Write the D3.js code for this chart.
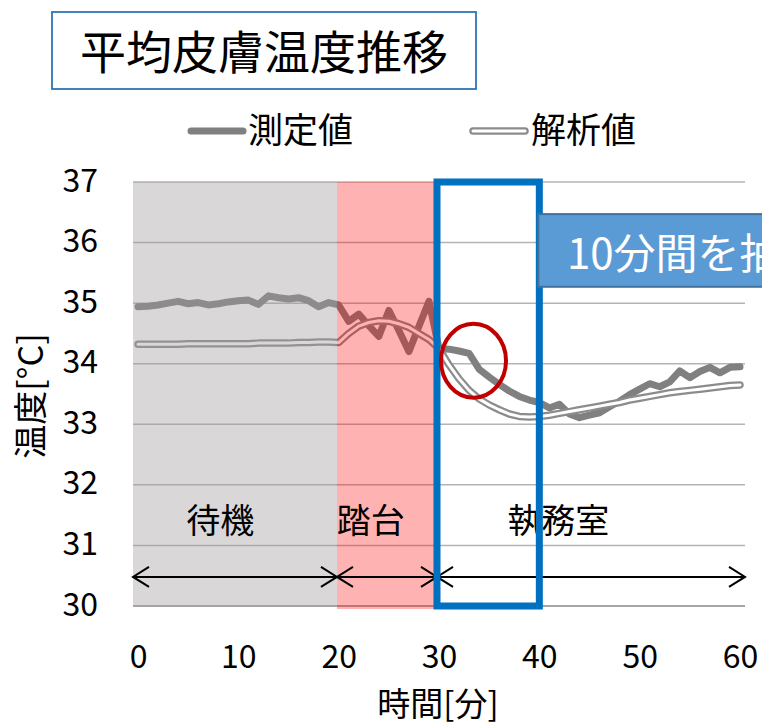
<!DOCTYPE html>
<html>
<head>
<meta charset="utf-8">
<script src="https://cdn.jsdelivr.net/npm/d3@7"></script>
<style>
  html, body { margin: 0; padding: 0; background: #fff; }
  svg { display: block; font-family: "Noto Sans CJK JP", "Noto Sans", sans-serif; }
</style>
</head>
<body>
<svg id="chart" width="762" height="727"></svg>
<script>
// ---- data ----
const titleText = "平均皮膚温度推移";
const seriesNames = ["測定値", "解析値"];
const minutes = [0,1,2,3,4,5,6,7,8,9,10,11,12,13,14,15,16,17,18,19,20,
  21,22,23,24,25,26,27,28,29,30,31,32,33,34,35,36,37,38,39,40,
  41,42,43,44,45,46,47,48,49,50,51,52,53,54,55,56,57,58,59,60];
const measured = [
  34.94,34.95,34.97,35.00,35.03,34.99,35.01,34.97,34.99,35.02,
  35.04,35.05,34.98,35.12,35.09,35.07,35.09,35.04,34.94,35.01,
  34.97,34.70,34.82,34.63,34.45,34.88,34.55,34.20,34.62,35.03,
  34.25,34.24,34.21,34.17,33.91,33.78,33.66,33.55,33.46,33.40,
  33.36,33.27,33.33,33.17,33.11,33.15,33.19,33.29,33.38,33.49,
  33.58,33.67,33.62,33.70,33.88,33.77,33.87,33.94,33.85,33.94,33.95
];
const analyzed = [
  34.32,34.32,34.32,34.32,34.32,34.33,34.33,34.33,34.33,34.33,
  34.33,34.33,34.34,34.34,34.34,34.34,34.35,34.35,34.36,34.36,
  34.35,34.50,34.62,34.68,34.71,34.70,34.66,34.60,34.50,34.40,
  34.25,33.98,33.75,33.56,33.42,33.32,33.24,33.17,33.13,33.12,
  33.13,33.15,33.18,33.21,33.24,33.27,33.30,33.33,33.36,33.40,
  33.43,33.46,33.49,33.52,33.54,33.56,33.58,33.60,33.62,33.64,33.65
];
const yTicks = [30,31,32,33,34,35,36,37];
const xTicks = [0,10,20,30,40,50,60];
const xTitle = "時間[分]";
const yTitle = "温度[°C]";
// phases: label, start, end (minutes), label anchor (minutes)
const phaseLabels = ["待機", "踏台", "執務室"];
const phaseStart = [-0.5, 19.83, 29.8];
const phaseEnd = [19.83, 29.8, 60.5];
const phaseLabelAt = [8.2, 23.2, 41.9];
const highlightRange = [29.8, 40.0];   // 10-minute extraction window
const calloutText = "10分間を抽出";

// ---- layout ----
const svg = d3.select("#chart");
const x = d3.scaleLinear().domain([-0.5, 60.5]).range([133, 745]);
const y = d3.scaleLinear().domain([30, 37]).range([606, 182]);

// title box
svg.append("rect").attr("x", 52).attr("y", 12).attr("width", 424).attr("height", 77)
  .attr("fill", "#fff").attr("stroke", "#2E75B6").attr("stroke-width", 1.8);
svg.append("text").attr("x", 264).attr("y", 68.5).attr("text-anchor", "middle")
  .attr("font-size", 46).attr("fill", "#000").text(titleText);

// legend
const legend = svg.append("g");
legend.append("line").attr("x1", 191).attr("x2", 243).attr("y1", 131).attr("y2", 131)
  .attr("stroke", "#808080").attr("stroke-width", 7).attr("stroke-linecap", "round");
legend.append("text").attr("x", 248).attr("y", 143).attr("font-size", 35).text(seriesNames[0]);
legend.append("line").attr("x1", 473).attr("x2", 525).attr("y1", 131).attr("y2", 131)
  .attr("stroke", "#8c8c8c").attr("stroke-width", 7.5).attr("stroke-linecap", "round");
legend.append("line").attr("x1", 473).attr("x2", 525).attr("y1", 131).attr("y2", 131)
  .attr("stroke", "#fff").attr("stroke-width", 3).attr("stroke-linecap", "round");
legend.append("text").attr("x", 531).attr("y", 143).attr("font-size", 35).text(seriesNames[1]);

// gridlines
svg.append("g").selectAll("line").data(yTicks).join("line")
  .attr("x1", x(-0.5)).attr("x2", x(60.5))
  .attr("y1", d => y(d)).attr("y2", d => y(d))
  .attr("stroke", d => d === 30 ? "#a6a6a6" : "#b4b4b4")
  .attr("stroke-width", d => d === 30 ? 2 : 1.5);

// y axis labels
const yAxis = svg.append("g").attr("transform", `translate(${x(-0.5)},0)`)
  .call(d3.axisLeft(y).tickValues(yTicks).tickSize(0).tickPadding(35).tickFormat(d3.format("d")));
yAxis.select(".domain").remove();
yAxis.selectAll("text").attr("font-size", 32).attr("font-family", "'Noto Sans CJK JP', sans-serif")
  .attr("fill", "#000").attr("dy", 9).attr("text-anchor", "end");

// x axis labels
const xAxis = svg.append("g").attr("transform", `translate(0,${y(30)})`)
  .call(d3.axisBottom(x).tickValues(xTicks).tickSize(0).tickPadding(0).tickFormat(d3.format("d")));
xAxis.select(".domain").remove();
xAxis.selectAll("text").attr("font-size", 32).attr("font-family", "'Noto Sans CJK JP', sans-serif")
  .attr("fill", "#000").attr("y", 62).attr("dy", 0);

// lines
const measuredData = minutes.map((m, i) => [m, measured[i]]);
const analyzedData = minutes.map((m, i) => [m, analyzed[i]]);
const line = d3.line().x(d => x(d[0])).y(d => y(d[1]));
svg.append("path").datum(measuredData).attr("d", line)
  .attr("fill", "none").attr("stroke", "#808080").attr("stroke-width", 7)
  .attr("stroke-linejoin", "round").attr("stroke-linecap", "round");
svg.append("path").datum(analyzedData).attr("d", line)
  .attr("fill", "none").attr("stroke", "#8c8c8c").attr("stroke-width", 7.5)
  .attr("stroke-linejoin", "round").attr("stroke-linecap", "round");
svg.append("path").datum(analyzedData).attr("d", line)
  .attr("fill", "none").attr("stroke", "#fff").attr("stroke-width", 3)
  .attr("stroke-linejoin", "round").attr("stroke-linecap", "round");

// phase bands (overlay)
svg.append("rect").attr("x", x(phaseStart[0])).attr("y", y(37))
  .attr("width", x(phaseEnd[0]) - x(phaseStart[0])).attr("height", y(30) - y(37))
  .attr("fill", "rgb(160,156,158)").attr("fill-opacity", 0.4);
svg.append("rect").attr("x", x(phaseStart[1])).attr("y", y(37))
  .attr("width", x(phaseEnd[1]) - x(phaseStart[1])).attr("height", y(30) - y(37) + 3)
  .attr("fill", "rgb(255,0,0)").attr("fill-opacity", 0.3);

// phase arrows
const arrowY = y(30.48);
const ah = 16, aw = 10;
phaseLabels.forEach((lab, i) => {
  const x1 = x(phaseStart[i]), x2 = x(phaseEnd[i]);
  const g = svg.append("g").attr("stroke", "#000").attr("stroke-width", 2).attr("fill", "none");
  g.append("line").attr("x1", x1).attr("x2", x2).attr("y1", arrowY).attr("y2", arrowY);
  g.append("path").attr("d", `M${x1 + ah},${arrowY - aw}L${x1},${arrowY}L${x1 + ah},${arrowY + aw}`);
  g.append("path").attr("d", `M${x2 - ah},${arrowY - aw}L${x2},${arrowY}L${x2 - ah},${arrowY + aw}`);
  svg.append("text").attr("x", x(phaseLabelAt[i])).attr("y", 533).attr("text-anchor", "middle")
    .attr("font-size", 34).attr("fill", "#000").text(lab);
});

// axis titles
svg.append("text").attr("x", 438).attr("y", 716).attr("text-anchor", "middle")
  .attr("font-size", 33).attr("fill", "#000").text(xTitle);
svg.append("text").attr("transform", "translate(43,396) rotate(-90)").attr("text-anchor", "middle")
  .attr("font-size", 34).attr("fill", "#000").text(yTitle);

// highlight rectangle
svg.append("rect").attr("x", x(highlightRange[0])).attr("y", y(37))
  .attr("width", x(highlightRange[1]) - x(highlightRange[0])).attr("height", y(30) - y(37))
  .attr("fill", "none").attr("stroke", "#0070C0").attr("stroke-width", 7);

// red ellipse
const ecx = 33.44, ecy = 34.05;
svg.append("ellipse").attr("cx", x(ecx)).attr("cy", y(ecy))
  .attr("rx", x(ecx + 3.24) - x(ecx)).attr("ry", y(ecy) - y(ecy + 0.61))
  .attr("fill", "none").attr("stroke", "#C00000").attr("stroke-width", 4);

// callout (runs off the right edge, as in the reference)
svg.append("clipPath").attr("id", "clipAll").append("rect")
  .attr("x", 0).attr("y", 0).attr("width", 762).attr("height", 727);
const call = svg.append("g").attr("clip-path", "url(#clipAll)");
call.append("rect").attr("x", x(40.0) - 1).attr("y", y(36.47))
  .attr("width", 260).attr("height", y(35.27) - y(36.47))
  .attr("fill", "#5B9BD5").attr("stroke", "#41719C").attr("stroke-width", 2);
call.append("text").attr("x", 567).attr("y", 269).attr("font-size", 42)
  .attr("fill", "#fff").text(calloutText);
</script>
</body>
</html>
